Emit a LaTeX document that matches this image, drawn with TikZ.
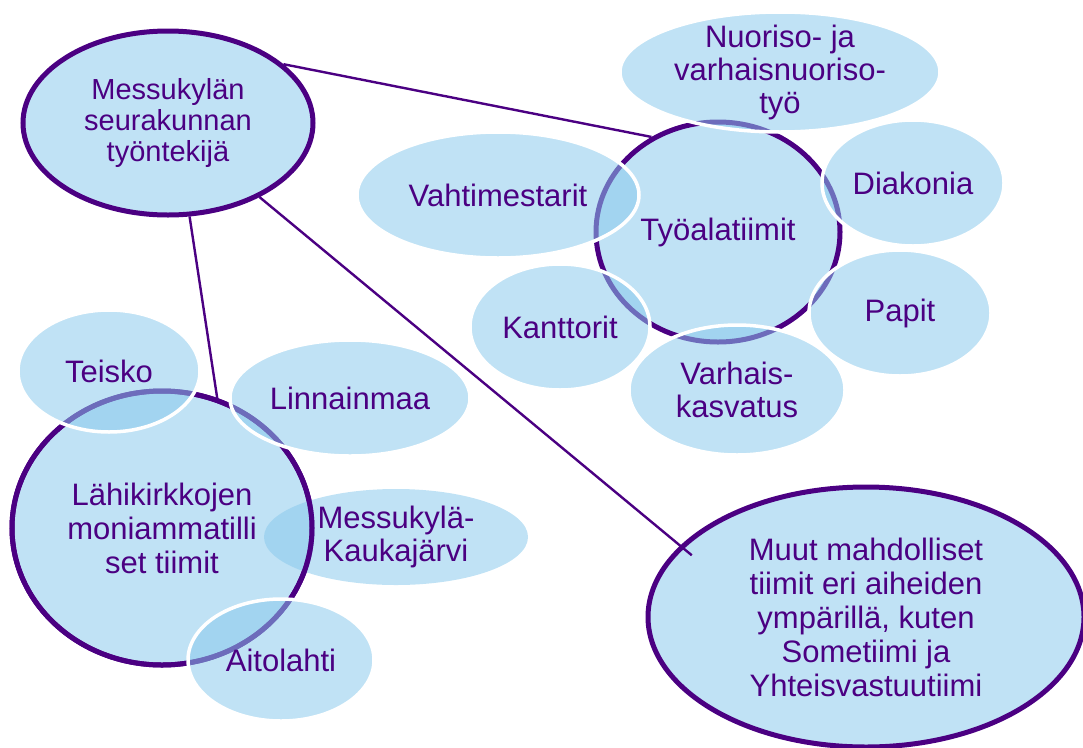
\documentclass[tikz,border=0pt]{standalone}
\usepackage{fontspec}
\setmainfont{Liberation Sans}
\usetikzlibrary{shapes.geometric}
\definecolor{violetti}{HTML}{4B0082}
\definecolor{vaalea}{HTML}{C0E2F5}
\definecolor{sininen}{HTML}{8AC9EC}

\begin{document}
\begin{tikzpicture}[x=1pt,y=-1pt,
    tiimi/.style={ellipse,fill=vaalea,draw=violetti,line width=5pt,inner sep=0pt,
        text=violetti,align=center,font=\fontsize{31}{34}\selectfont},
    osa/.style={ellipse,fill=sininen,fill opacity=.54,text opacity=1,draw=white,
        line width=3.5pt,inner sep=0pt,text=violetti,align=center,
        font=\fontsize{31}{33}\selectfont},
    yhteys/.style={draw=violetti,line width=2.4pt}]
\useasboundingbox (0,0) rectangle (1083,747);

% paatiimit
\node[tiimi,minimum width=290pt,minimum height=184pt,font=\fontsize{29}{31}\selectfont]
    (seurakunta) at (168,123) {Messukylän\\seurakunnan\\työntekijä};
\node[tiimi,minimum width=244pt,minimum height=220pt] (tyoala) at (718,232) {Työalatiimit};
\node[tiimi,minimum width=436pt,minimum height=260pt] (muut) at (866,617)
    {Muut mahdolliset\\tiimit eri aiheiden\\ympärillä, kuten\\Sometiimi ja\\Yhteisvastuutiimi};
\node[tiimi,minimum width=300pt,minimum height=274pt] (lahi) at (162,528)
    {Lähikirkkojen\\moniammatilli\\set tiimit};

% lahikirkot
\node[osa,draw=none,minimum width=264pt,minimum height=96pt] (kaukajarvi) at (396,537)
    {Messukylä-\\Kaukajärvi};
\draw[violetti,line width=5pt] (lahi.center) ellipse [x radius=150pt,y radius=137pt];
\node[osa,minimum width=182pt,minimum height=122pt] (teisko) at (109,371) {Teisko};
\node[osa,minimum width=240pt,minimum height=116pt] (linnainmaa) at (350,398) {Linnainmaa};
\node[osa,minimum width=186pt,minimum height=122pt] (aitolahti) at (281,660) {Aitolahti};

% tyoalat
\node[osa,minimum width=320pt,minimum height=120pt,inner ysep=-8pt] (nuoriso) at (780,72)
    {Nuoriso- ja\\varhaisnuoriso-\\työ};
\node[osa,minimum width=282pt,minimum height=126pt] (vahtimestarit) at (498,195) {Vahtimestarit};
\node[osa,minimum width=182pt,minimum height=126pt] (diakonia) at (913,183) {Diakonia};
\node[osa,minimum width=182pt,minimum height=126pt] (papit) at (900,313) {Papit};
\node[osa,minimum width=180pt,minimum height=126pt] (kanttorit) at (560,327) {Kanttorit};
\node[osa,minimum width=216pt,minimum height=130pt] (varhais) at (737,390) {Varhais-\\kasvatus};

% yhteydet
\draw[yhteys] (seurakunta.27) -- (tyoala.125);
\draw[yhteys] (seurakunta.-77) -- (lahi.67);
\draw[yhteys,shorten >=-15pt] (seurakunta.-39) -- (muut.159);
\end{tikzpicture}
\end{document}
